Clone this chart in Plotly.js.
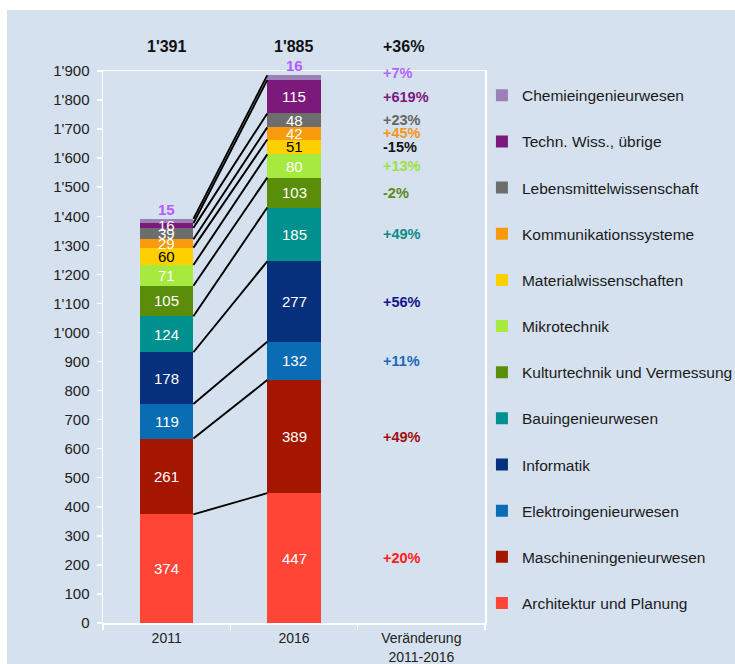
<!DOCTYPE html>
<html><head><meta charset="utf-8">
<script src="https://cdn.plot.ly/plotly-3.0.1.min.js"></script>
<style>html,body{margin:0;padding:0;background:#fff}</style>
</head><body><div id="chart" style="width:735px;height:664px"></div>
<script>
const yearPositions = [0, 1];
const xTickLabels = ['2011', '2016', 'Veränderung<br>2011-2016'];
const categories = ['Architektur und Planung','Maschineningenieurwesen','Elektroingenieurwesen','Informatik','Bauingenieurwesen','Kulturtechnik und Vermessung','Mikrotechnik','Materialwissenschaften','Kommunikationssysteme','Lebensmittelwissenschaft','Techn. Wiss., übrige','Chemieingenieurwesen'];
const values2011 = [374, 261, 119, 178, 124, 105, 71, 60, 29, 39, 16, 15];
const values2016 = [447, 389, 132, 277, 185, 103, 80, 51, 42, 48, 115, 16];
const colors = ['#ff4536','#a51600','#0a6db4','#06307c','#00918f','#5a8e0a','#a6ea40','#ffd000','#f99a0c','#6d6d6d','#7c1a7b','#9d80b6'];
const labelColors = ['#fff','#fff','#fff','#fff','#fff','#fff','#fff','#000','#fff','#fff','#fff','#b45cff'];
const pctColors = ['#ff1a1a','#a01010','#1a6ab5','#14148c','#0f8a8a','#5a8a1a','#9ee040','#111111','#f7941d','#666666','#7b1a7b','#b266ff'];
const yTickVals = [0,100,200,300,400,500,600,700,800,900,1000,1100,1200,1300,1400,1500,1600,1700,1800,1900];

const FONT = '"Liberation Sans", Arial, Helvetica, sans-serif';
const BG = '#d5e1ee';
const BARW = 0.42;

function fmt(n){ return String(n).replace(/\B(?=(\d{3})+(?!\d))/g, "'"); }
function pct(a,b){ const p = Math.round((b/a-1)*100); return (p>=0?'+':'') + p + '%'; }

const cum2011 = [], cum2016 = [];
values2011.reduce((s,v,i)=>{cum2011[i]=s+v; return s+v;},0);
values2016.reduce((s,v,i)=>{cum2016[i]=s+v; return s+v;},0);
const total2011 = cum2011[cum2011.length-1];
const total2016 = cum2016[cum2016.length-1];

const traces = [];
categories.forEach((c,i)=>{
  traces.push({
    type:'bar', x: yearPositions, y:[values2011[i], values2016[i]], name:c,
    width: BARW, marker:{color:colors[i], line:{width:0}},
    legendgroup:'g'+i, legendrank: categories.length - i, hoverinfo:'skip'
  });
});
categories.forEach((c,i)=>{
  traces.push({
    type:'scatter', mode:'lines', x:[BARW/2, 1-BARW/2], y:[cum2011[i], cum2016[i]],
    line:{color:'#000', width:1.9}, showlegend:false, hoverinfo:'skip'
  });
});

const annotations = [];
const last = categories.length-1;
categories.forEach((c,i)=>{
  [[values2011, cum2011, 0],[values2016, cum2016, 1]].forEach(([vals, cums, x])=>{
    if(i === last){
      annotations.push({x:x, y:cums[i], yanchor:'bottom', text:'<b>'+vals[i]+'</b>', showarrow:false,
        font:{family:FONT, size:15, color:labelColors[i]}, yshift:-1});
    } else {
      annotations.push({x:x, y:cums[i]-vals[i]/2, text:String(vals[i]), showarrow:false,
        font:{family:FONT, size:15, color:labelColors[i]}});
    }
  });
  annotations.push({x:1.685, xanchor:'left', y:cum2016[i]-values2016[i]/2, text:'<b>'+pct(values2011[i], values2016[i])+'</b>',
    showarrow:false, font:{family:FONT, size:14.5, color:pctColors[i]}, yshift: i===last?5:0});
});
annotations.push({x:0, y:1.044, yref:'paper', yanchor:'middle', text:'<b>'+fmt(total2011)+'</b>', showarrow:false, font:{family:FONT,size:16,color:'#111'}});
annotations.push({x:1, y:1.044, yref:'paper', yanchor:'middle', text:'<b>'+fmt(total2016)+'</b>', showarrow:false, font:{family:FONT,size:16,color:'#111'}});
annotations.push({x:1.685, xanchor:'left', y:1.044, yref:'paper', yanchor:'middle', text:'<b>'+pct(total2011,total2016)+'</b>', showarrow:false, font:{family:FONT,size:16,color:'#111'}});

const layout = {
  width:735, height:664,
  margin:{l:103, r:250, t:71, b:41, autoexpand:false},
  paper_bgcolor:BG, plot_bgcolor:BG,
  barmode:'stack', bargap:0,
  separators:".'",
  font:{family:FONT, size:15, color:'#222'},
  showlegend:true,
  legend:{x:0.992, xanchor:'left', y:0.986, yanchor:'top', traceorder:'grouped', tracegroupgap:23,
    font:{family:FONT, size:15.5, color:'#1a1a1a'}, bgcolor:'rgba(0,0,0,0)'},
  xaxis:{range:[-0.5,2.5], tickvals:[0,1,2], ticktext:xTickLabels, ticks:'', showgrid:false, zeroline:false,
    showline:true, linecolor:'#fff', linewidth:1.5, mirror:true, ticklabelstandoff:2,
    minor:{tick0:-0.5, dtick:1, ticks:'outside', ticklen:5, tickcolor:'#fff', tickwidth:1.5, showgrid:false},
    tickfont:{family:FONT, size:14, color:'#222'}, fixedrange:true},
  yaxis:{range:[0,1900], tickvals:yTickVals, separatethousands:true, ticks:'outside', ticklen:5, tickcolor:'#fff', tickwidth:1.5,
    showgrid:false, zeroline:false, showline:true, linecolor:'#fff', linewidth:1.5, mirror:true,
    ticklabelstandoff:4, tickfont:{family:FONT, size:15, color:'#222'}, fixedrange:true},
  annotations:annotations,
  shapes:[
    {type:'rect', xref:'paper', yref:'paper', x0:-0.3, x1:2, y0:(623-10)/552, y1:1.2, fillcolor:'#fff', line:{width:0}, layer:'below'},
    {type:'rect', xref:'paper', yref:'paper', x0:-0.3, x1:(7-103)/382, y0:-0.2, y1:1.2, fillcolor:'#fff', line:{width:0}, layer:'below'}
  ]
};
Plotly.newPlot('chart', traces, layout, {displayModeBar:false, staticPlot:true});
</script></body></html>
